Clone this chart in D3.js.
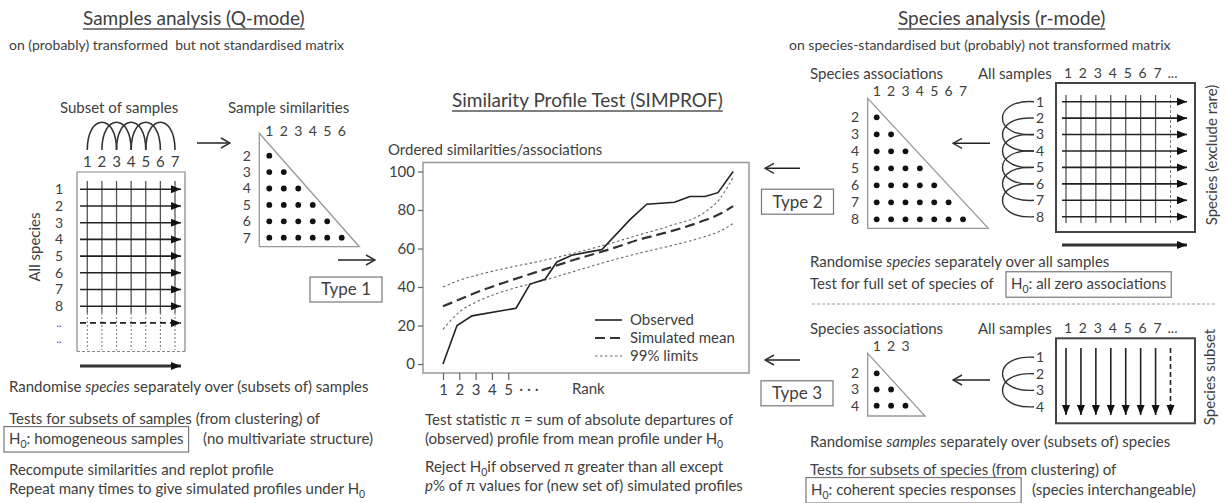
<!DOCTYPE html>
<html>
<head>
<meta charset="utf-8">
<script src="https://cdn.jsdelivr.net/npm/d3@7"></script>
<style>
  body { margin: 0; background: #fff; }
  svg text { font-family: Lato, "Open Sans", sans-serif; fill: #404040; }
</style>
</head>
<body>
<div id="fig"></div>
<script>
// SIMPROF profile (rank, similarity %)
const obsRank  = [1, 1.86, 2.78, 5.48, 6.34, 7.26, 7.99, 8.9, 9.8, 10.75, 12.47, 13.5, 15.2, 16.15, 17.07, 17.87, 18.8];
const obsValue = [0, 20, 25, 29, 41.5, 44, 53, 56.5, 58, 59.5, 75, 83, 84, 87, 87, 89, 100];
const simRank  = [1, 2, 3, 5, 7, 9, 11, 13, 15, 17, 18, 18.8];
const simMean  = [30, 33.5, 37, 43, 48.5, 54, 59, 64.5, 69, 74.5, 78, 82];
const simUpper = [40, 43.5, 46, 50, 53.5, 57.5, 62, 67, 72, 78.5, 86, 97];
const simLower = [18, 27, 32, 38.5, 43, 48, 53, 57.5, 61.5, 66, 69, 73];
const yTicks = [0, 20, 40, 60, 80, 100];
const xTicks = [1, 2, 3, 4, 5];
const legendLabels = ["Observed", "Simulated mean", "99% limits"];

// schematic matrices
const sampleCols = ["1", "2", "3", "4", "5", "6", "7"];
const speciesRows = ["1", "2", "3", "4", "5", "6", "7", "8", "..", ".."];
const sampleArcs = [[1, 3], [2, 4], [3, 5], [4, 6], [5, 7]];
const simRows = [2, 3, 4, 5, 6, 7];          // sample similarity triangle
const assocRows = [2, 3, 4, 5, 6, 7, 8];     // species association triangle (type 2)
const subsetRows = [2, 3, 4];                // species association triangle (type 3)
const allSampleCols = ["1", "2", "3", "4", "5", "6", "7", "..."];
const speciesRows2 = ["1", "2", "3", "4", "5", "6", "7", "8"];
const speciesRows3 = ["1", "2", "3", "4"];
const loops2 = [[1, 3], [2, 4], [3, 5], [4, 6], [5, 7], [6, 8]];
const loops3 = [[1, 3], [2, 4]];

const W = 1228, H = 503;
const svg = d3.select("#fig").append("svg").attr("width", W).attr("height", H);
svg.append("rect").attr("width", W).attr("height", H).attr("fill", "#fff");

const defs = svg.append("defs");
defs.append("marker").attr("id", "tri")
  .attr("viewBox", "0 -5 10 10").attr("refX", 10).attr("refY", 0)
  .attr("markerUnits", "userSpaceOnUse").attr("markerWidth", 10).attr("markerHeight", 10)
  .attr("orient", "auto")
  .append("path").attr("d", "M0,-4L10,0L0,4Z").attr("fill", "#111");
defs.append("marker").attr("id", "open")
  .attr("viewBox", "0 -6 12 12").attr("refX", 11).attr("refY", 0)
  .attr("markerUnits", "userSpaceOnUse").attr("markerWidth", 12).attr("markerHeight", 12)
  .attr("orient", "auto")
  .append("path").attr("d", "M2,-5L11,0L2,5").attr("fill", "none")
  .attr("stroke", "#333").attr("stroke-width", 1.5);

// text helpers
function label(x, y, parts, size, anchor) {
  const t = svg.append("text").attr("x", x).attr("y", y).attr("dy", "0.35em")
    .attr("font-size", size).attr("text-anchor", anchor || "start");
  let shift = 0;
  (typeof parts === "string" ? [{t: parts}] : parts).forEach(p => {
    const s = t.append("tspan").text(p.t);
    if (p.i) s.attr("font-style", "italic");
    if (p.sub) { s.attr("dy", size * 0.3).attr("font-size", size * 0.7); shift = size * 0.3; }
    else if (shift) { s.attr("dy", -shift); shift = 0; }
  });
  return t;
}
function underline(t, y) {
  const bb = t.node().getBBox();
  svg.append("line").attr("x1", bb.x).attr("x2", bb.x + bb.width)
    .attr("y1", y).attr("y2", y).attr("stroke", "#555").attr("stroke-width", 1.3);
}
function boxAround(t, padX, padY) {
  const bb = t.node().getBBox();
  svg.append("rect").attr("x", bb.x - padX).attr("y", bb.y - padY)
    .attr("width", bb.width + 2 * padX).attr("height", bb.height + 2 * padY)
    .attr("fill", "none").attr("stroke", "#777").attr("stroke-width", 1.2);
}
function arrow(x1, y1, x2, y2, opts) {
  opts = opts || {};
  return svg.append("line").attr("x1", x1).attr("y1", y1).attr("x2", x2).attr("y2", y2)
    .attr("stroke", opts.color || "#222").attr("stroke-width", opts.w || 1.5)
    .attr("stroke-dasharray", opts.dash || null)
    .attr("marker-end", `url(#${opts.head || "tri"})`);
}
function typeBox(cx, cy, txt) {
  svg.append("rect").attr("x", cx - 36).attr("y", cy - 12.5).attr("width", 72).attr("height", 25)
    .attr("fill", "none").attr("stroke", "#777").attr("stroke-width", 1.2);
  label(cx, cy, txt, 17, "middle");
}

const TITLE = 19, BODY = 15, SUB = 14, NUM = 14;
const H0 = rest => [{t: "H"}, {t: "0", sub: true}, {t: rest}];

// ---------------- left: Q-mode ----------------
underline(label(83, 18, "Samples analysis (Q-mode)", TITLE), 29);
label(9, 45, "on (probably) transformed  but not standardised matrix", SUB).attr("xml:space", "preserve");
label(60, 108, "Subset of samples", BODY);

const qCol = d3.scaleLinear().domain([1, 7]).range([87.3, 175]);
const qRow = d3.scaleLinear().domain([1, 10]).range([189.3, 339.6]);

svg.selectAll(".arc").data(sampleArcs).join("path")
  .attr("d", d => `M${qCol(d[0])},150C${qCol(d[0])},113 ${qCol(d[1])},113 ${qCol(d[1])},150`)
  .attr("fill", "none").attr("stroke", "#333").attr("stroke-width", 1.6);
svg.selectAll(".qc").data(sampleCols).join("text")
  .attr("x", (d, i) => qCol(i + 1)).attr("y", 162).attr("dy", "0.35em")
  .attr("text-anchor", "middle").attr("font-size", 15).text(d => d);
arrow(197, 143, 230, 143, {head: "open"});

// grid
svg.append("path").attr("d", "M77,351.5V172H185V351.5").attr("fill", "none").attr("stroke", "#888").attr("stroke-width", 1.2);
svg.append("line").attr("x1", 77).attr("x2", 185).attr("y1", 351.5).attr("y2", 351.5)
  .attr("stroke", "#888").attr("stroke-dasharray", "3,2");
sampleCols.forEach((c, i) => {
  svg.append("line").attr("x1", qCol(i + 1)).attr("x2", qCol(i + 1)).attr("y1", 181).attr("y2", 313)
    .attr("stroke", "#555").attr("stroke-width", 1.3);
  svg.append("line").attr("x1", qCol(i + 1)).attr("x2", qCol(i + 1)).attr("y1", 313).attr("y2", 350)
    .attr("stroke", "#777").attr("stroke-dasharray", "2,2");
});
speciesRows.forEach((r, i) => {
  label(59, qRow(i + 1), r, r === ".." ? 11 : NUM, "middle");
  if (i < 9) arrow(80, qRow(i + 1), 181, qRow(i + 1), {dash: i === 8 ? "6,4" : null, w: 1.6});
});
label(0, 0, "All species", BODY, "middle").attr("transform", "translate(35,247) rotate(-90)");
arrow(80, 366, 181, 366, {w: 3, color: "#333"});

// sample similarity triangle
label(228, 108, "Sample similarities", BODY);
const sCol = d3.scaleLinear().domain([1, 6]).range([269.3, 341.7]);
const sRow = d3.scaleLinear().domain([2, 7]).range([155.7, 237.7]);
sampleCols.slice(0, 6).forEach((c, i) => label(sCol(i + 1), 131, c, NUM, "middle"));
svg.append("path").attr("d", "M259.3,133.3V246.7H359.3Z").attr("fill", "none").attr("stroke", "#999").attr("stroke-width", 1.3);
simRows.forEach(r => {
  label(246.7, sRow(r), String(r), NUM, "middle");
  svg.selectAll(null).data(d3.range(1, r)).join("circle")
    .attr("cx", c => sCol(c)).attr("cy", sRow(r)).attr("r", 2.9).attr("fill", "#111");
});
arrow(338, 260, 375, 260, {head: "open"});
typeBox(346, 289.5, "Type 1");

label(9, 386.7, [{t: "Randomise "}, {t: "species", i: true}, {t: " separately over (subsets of) samples"}], BODY);
label(9, 418.3, "Tests for subsets of samples (from clustering) of", BODY);
const h0a = label(9, 438.3, H0(": homogeneous samples"), BODY);
boxAround(h0a, 5, 2);
label(203, 438.3, "(no multivariate structure)", BODY);
label(9, 469.3, "Recompute similarities and replot profile", BODY);
label(9, 488.3, [{t: "Repeat many times to give simulated profiles under H"}, {t: "0", sub: true}], BODY);

// ---------------- centre: SIMPROF chart ----------------
underline(label(452, 100, "Similarity Profile Test (SIMPROF)", TITLE), 111);
label(388, 150, "Ordered similarities/associations", BODY);

const x = d3.scaleLinear().domain([1, 19]).range([443, 736.4]);
const y = d3.scaleLinear().domain([0, 100]).range([364, 171.5]);
const box = {x0: 423, x1: 749, y0: 162.5, y1: 373};

svg.append("rect").attr("x", box.x0).attr("y", box.y0)
  .attr("width", box.x1 - box.x0).attr("height", box.y1 - box.y0)
  .attr("fill", "none").attr("stroke", "#999").attr("stroke-width", 1.5);

const yAxis = svg.append("g").attr("transform", `translate(${box.x0},0)`)
  .call(d3.axisLeft(y).tickValues(yTicks).tickSize(5).tickPadding(3).tickSizeOuter(0));
const xAxis = svg.append("g").attr("transform", `translate(0,${box.y1})`)
  .call(d3.axisBottom(x).tickValues(xTicks).tickSize(7).tickPadding(4).tickSizeOuter(0));
[yAxis, xAxis].forEach(g => {
  g.attr("font-family", null).attr("font-size", null);
  g.select(".domain").remove();
  g.selectAll("line").attr("stroke", "#666").attr("stroke-width", 1.2);
  g.selectAll("text").attr("font-size", 15).attr("fill", null);
});
label(529, 389, "· · ·", BODY, "middle");
label(572, 389, "Rank", BODY);

const lineSim = d3.line().x(d => x(d[0])).y(d => y(d[1])).curve(d3.curveMonotoneX);
const lineObs = d3.line().x(d => x(d[0])).y(d => y(d[1]));
const styles = [
  {dash: null, w: 1.6, c: "#222"},
  {dash: "10,5", w: 2.2, c: "#333"},
  {dash: "2.5,2.5", w: 1.1, c: "#666"}
];
[simUpper, simLower].forEach(s => {
  svg.append("path").datum(simRank.map((r, i) => [r, s[i]])).attr("d", lineSim)
    .attr("fill", "none").attr("stroke", styles[2].c).attr("stroke-width", styles[2].w)
    .attr("stroke-dasharray", styles[2].dash);
});
svg.append("path").datum(simRank.map((r, i) => [r, simMean[i]])).attr("d", lineSim)
  .attr("fill", "none").attr("stroke", styles[1].c).attr("stroke-width", styles[1].w)
  .attr("stroke-dasharray", styles[1].dash);
svg.append("path").datum(obsRank.map((r, i) => [r, obsValue[i]])).attr("d", lineObs)
  .attr("fill", "none").attr("stroke", styles[0].c).attr("stroke-width", styles[0].w);

legendLabels.forEach((l, i) => {
  const ly = 320 + i * 18;
  svg.append("line").attr("x1", 595).attr("x2", 622).attr("y1", ly).attr("y2", ly)
    .attr("stroke", styles[i].c).attr("stroke-width", styles[i].w)
    .attr("stroke-dasharray", styles[i].dash);
  label(630, ly, l, BODY);
});

label(425, 419.3, "Test statistic π = sum of absolute departures of", BODY);
label(425, 438.3, [{t: "(observed) profile from mean profile under H"}, {t: "0", sub: true}], BODY);
label(425, 466.7, [{t: "Reject H"}, {t: "0", sub: true}, {t: "if observed π greater than all except"}], BODY);
label(425, 486, [{t: "p", i: true}, {t: "% of π values for (new set of) simulated profiles"}], BODY);

// ---------------- right: r-mode ----------------
underline(label(898, 18, "Species analysis (r-mode)", TITLE), 29);
label(789, 45, "on species-standardised but (probably) not transformed matrix", SUB);

const rCol = d3.scaleLinear().domain([1, 8]).range([1066, 1170.5]);
const aCol = d3.scaleLinear().domain([1, 7]).range([876.7, 963]);

function allSamplesHeader(yy) {
  label(810, yy, "Species associations", BODY);
  label(978, yy, "All samples", BODY);
  allSampleCols.forEach((c, i) => label(rCol(i + 1) + 2, yy, c, NUM, "middle"));
}
function assocTriangle(rows, rowScale, top, bottom, right, colY) {
  rows.forEach((r, i) => label(aCol(i + 1), colY, String(i + 1), NUM, "middle"));
  svg.append("path").attr("d", `M867.7,${top}V${bottom}H${right}Z`)
    .attr("fill", "none").attr("stroke", "#999").attr("stroke-width", 1.3);
  rows.forEach(r => {
    label(855, rowScale(r), String(r), NUM, "middle");
    svg.selectAll(null).data(d3.range(1, r)).join("circle")
      .attr("cx", c => aCol(c)).attr("cy", rowScale(r)).attr("r", 2.9).attr("fill", "#111");
  });
}
function loops(pairs, rowScale) {
  svg.selectAll(null).data(pairs).join("path")
    .attr("d", d => `M1034,${rowScale(d[0])}C992,${rowScale(d[0]) - 3} 992,${rowScale(d[1]) + 3} 1034,${rowScale(d[1])}`)
    .attr("fill", "none").attr("stroke", "#333").attr("stroke-width", 1.4);
}

// type 2
allSamplesHeader(73.5);
const aRow2 = d3.scaleLinear().domain([2, 8]).range([117.3, 219.3]);
assocTriangle(assocRows, aRow2, 98.3, 228.3, 988.3, 91.5);
arrow(990, 143.3, 953, 143.3, {head: "open"});
const r2 = d3.scaleLinear().domain([1, 8]).range([101.7, 216.7]);
loops(loops2, r2);
svg.append("rect").attr("x", 1056).attr("y", 83).attr("width", 139).attr("height", 149)
  .attr("fill", "none").attr("stroke", "#444").attr("stroke-width", 2);
allSampleCols.forEach((c, i) => {
  svg.append("line").attr("x1", rCol(i + 1)).attr("x2", rCol(i + 1)).attr("y1", 95).attr("y2", 223)
    .attr("stroke", i === 7 ? "#777" : "#555").attr("stroke-width", i === 7 ? 1 : 1.3)
    .attr("stroke-dasharray", i === 7 ? "3,2" : null);
});
speciesRows2.forEach((r, i) => {
  label(1040, r2(i + 1), r, NUM, "middle");
  arrow(1062, r2(i + 1), 1187, r2(i + 1), {w: 1.6});
});
arrow(1062, 245, 1187, 245, {w: 3, color: "#333"});
label(0, 0, "Species (exclude rare)", BODY, "middle").attr("transform", "translate(1212,155) rotate(-90)");
arrow(800, 168.3, 765, 168.3, {head: "open"});
typeBox(797.5, 201.7, "Type 2");

label(810, 261.7, [{t: "Randomise "}, {t: "species", i: true}, {t: " separately over all samples"}], BODY);
label(810, 283.5, "Test for full set of species of", BODY);
boxAround(label(1011, 283.5, H0(": all zero associations"), BODY), 5, 2);
svg.append("line").attr("x1", 812).attr("x2", 1217).attr("y1", 304).attr("y2", 304)
  .attr("stroke", "#999").attr("stroke-dasharray", "3,2");

// type 3
allSamplesHeader(328.5);
const aRow3 = d3.scaleLinear().domain([2, 4]).range([373.3, 405.7]);
assocTriangle(subsetRows, aRow3, 353.3, 416, 925, 346.5);
arrow(990, 380, 953, 380, {head: "open"});
const r3 = d3.scaleLinear().domain([1, 4]).range([357.3, 406.7]);
loops(loops3, r3);
svg.append("rect").attr("x", 1056).attr("y", 338.3).attr("width", 139).attr("height", 85)
  .attr("fill", "none").attr("stroke", "#444").attr("stroke-width", 2);
speciesRows3.forEach((r, i) => label(1040, r3(i + 1), r, NUM, "middle"));
allSampleCols.forEach((c, i) => {
  arrow(rCol(i + 1), 348, rCol(i + 1), 415, {w: 1.6, dash: i === 7 ? "5,3" : null});
});
label(0, 0, "Species subset", BODY, "middle").attr("transform", "translate(1210,377) rotate(-90)");
arrow(800, 360, 765, 360, {head: "open"});
typeBox(797, 393.3, "Type 3");

label(810, 441.7, [{t: "Randomise "}, {t: "samples", i: true}, {t: " separately over (subsets of) species"}], BODY);
label(810, 470, "Tests for subsets of species (from clustering) of", BODY);
boxAround(label(811, 489.3, H0(": coherent species responses"), BODY), 5, 2);
label(1032, 489.3, "(species interchangeable)", BODY);
</script>
</body>
</html>
